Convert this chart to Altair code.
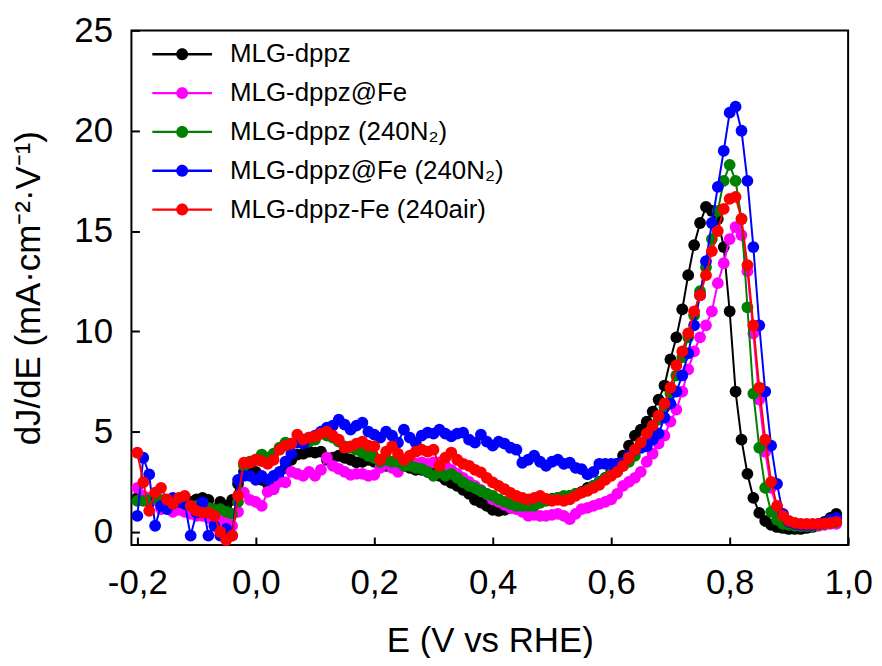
import altair as alt
import pandas as pd

# Potential grid (V vs RHE), sampled every 10 mV
E = [round(-0.20 + 0.01 * i, 2) for i in range(119)]

series_names = [
    "MLG-dppz",
    "MLG-dppz@Fe",
    "MLG-dppz (240N\u2082)",
    "MLG-dppz@Fe (240N\u2082)",
    "MLG-dppz-Fe (240air)",
]
series_colors = ["#000000", "#ff00ff", "#008000", "#0000ff", "#ff0000"]

mlg_dppz = (
    [1.7, 1.6, 1.5, 1.6, 1.4, 1.3, 1.5, 1.4, 1.3, 1.5, 1.63, 1.7, 1.6, 1.14, 1.5, 1.3, 1.6, 2.4, 3.0, 3.2]
    + [3.0, 2.6, 2.4, 2.2, 2.6, 3.2, 3.6, 3.86, 3.9, 4.0, 3.96, 4.0, 3.6, 3.7, 3.8, 3.7, 3.6, 3.47, 3.5, 3.6,
       3.5, 3.4, 3.3, 3.3, 3.4, 3.3, 3.2, 3.1, 3.1, 3.0]
    + [2.9, 2.8, 2.6, 2.45, 2.3, 2.1, 1.9, 1.6, 1.47, 1.3, 1.1, 1.05, 1.1, 1.2, 1.3, 1.4, 1.5, 1.5, 1.6, 1.6,
       1.65, 1.7, 1.7, 1.8, 1.9, 2.0, 2.2, 2.3, 2.5, 2.7]
    + [3.0, 3.4, 3.8, 4.3, 4.8, 5.1, 5.5, 6.0, 6.6, 7.3, 8.6, 9.7, 11.1, 12.8, 14.3, 15.4, 16.2, 16.0, 15.6, 14.2,
       11.0, 7.0, 4.6, 2.9, 1.7, 0.95, 0.55, 0.35, 0.25, 0.2, 0.15, 0.15, 0.15, 0.2, 0.25, 0.35, 0.5, 0.7, 0.9]
)

mlg_dppz_fe = (
    [2.2, 1.8, 1.7, 1.6, 1.14, 1.2, 1.0, 1.1, 1.0, 0.9, 0.8, 0.8, 0.7, 0.7, 0.6, 0.5, 0.3, 1.0, 1.96, 1.6]
    + [1.5, 1.3, 2.0, 2.13, 2.5, 2.47, 3.0, 2.9, 2.8, 3.0, 2.8, 3.1, 3.7, 3.3, 3.15, 3.0, 2.85, 2.9, 2.9, 2.8,
       2.85, 3.2, 3.53, 3.2, 3.0, 3.3, 3.47, 3.4, 3.47, 3.4]
    + [3.47, 3.47, 3.3, 3.1, 2.9, 2.7, 2.5, 2.3, 2.1, 1.9, 1.63, 1.5, 1.35, 1.2, 1.14, 1.0, 0.8, 0.85, 0.8, 0.8,
       0.85, 0.9, 0.8, 0.64, 0.9, 1.14, 1.2, 1.3, 1.4, 1.5]
    + [1.63, 1.9, 2.3, 2.5, 2.7, 3.0, 3.5, 3.9, 4.4, 4.8, 5.5, 6.1, 7.0, 8.1, 9.0, 9.7, 10.3, 11.0, 12.4, 13.4,
       14.6, 15.2, 14.8, 13.0, 9.9, 6.6, 4.0, 2.2, 1.1, 0.6, 0.4, 0.35, 0.3, 0.3, 0.3, 0.3, 0.35, 0.4, 0.4]
)

mlg_dppz_n2 = (
    [1.55, 1.55, 1.6, 1.7, 1.6, 1.5, 1.4, 1.5, 1.4, 1.3, 1.3, 1.2, 1.2, 1.1, 1.14, 1.0, 0.9, 1.5, 3.3, 3.5]
    + [3.6, 3.86, 3.7, 3.9, 4.2, 4.45, 4.4, 4.5, 4.6, 4.5, 4.6, 4.9, 4.8, 4.7, 4.5, 4.27, 4.2, 4.1, 3.96, 3.8,
       3.7, 3.5, 3.6, 3.5, 3.5, 3.3, 3.3, 3.2, 3.15, 3.0]
    + [2.8, 2.97, 2.8, 2.9, 2.7, 2.47, 2.3, 2.2, 2.05, 1.9, 1.8, 1.63, 1.5, 1.4, 1.3, 1.3, 1.3, 1.3, 1.45, 1.55,
       1.63, 1.7, 1.8, 1.8, 1.9, 1.96, 2.1, 2.3, 2.47, 2.7]
    + [2.9, 3.0, 3.3, 3.5, 3.8, 4.2, 4.6, 5.1, 5.6, 6.2, 6.9, 7.8, 8.7, 9.7, 10.8, 12.0, 13.2, 14.6, 16.0, 17.5,
       18.3, 17.5, 15.6, 11.2, 6.9, 4.2, 2.2, 1.0, 0.6, 0.4, 0.35, 0.3, 0.3, 0.3, 0.3, 0.35, 0.4, 0.45, 0.5]
)

mlg_dppz_fe_n2 = (
    [0.8, 3.7, 2.87, 0.31, 1.3, 1.14, 1.7, 1.5, 1.4, -0.18, 0.97, 1.47, -0.18, 0.31, -0.18, 0.15, -0.18, 2.6, 2.8, 2.8]
    + [2.6, 2.8, 2.6, 2.8, 3.0, 3.5, 3.9, 4.45, 4.4, 4.7, 4.8, 5.0, 5.2, 5.3, 5.6, 5.35, 5.1, 5.3, 5.45, 5.0,
       4.85, 4.7, 5.0, 4.8, 4.45, 5.1, 4.7, 4.45, 4.8, 4.95]
    + [4.9, 5.1, 4.9, 4.77, 4.9, 4.95, 4.6, 4.45, 4.85, 4.5, 4.3, 4.5, 4.4, 4.2, 4.1, 3.45, 3.6, 3.8, 3.5, 3.3,
       3.5, 3.6, 3.4, 3.45, 3.2, 3.13, 2.87, 3.0, 3.4, 3.4]
    + [3.4, 3.4, 3.45, 3.8, 4.1, 4.2, 4.27, 4.6, 4.9, 5.7, 6.4, 7.0, 7.8, 8.9, 10.3, 11.8, 13.5, 15.4, 17.2, 19.0,
       20.9, 21.2, 20.0, 17.5, 14.2, 10.3, 7.0, 4.3, 2.4, 0.9, 0.5, 0.4, 0.35, 0.35, 0.35, 0.4, 0.45, 0.6, 0.7]
)

mlg_dppz_fe_air = (
    [3.95, 2.47, 1.05, 1.96, 2.2, 1.63, 1.4, 1.7, 1.8, 1.3, 1.05, 0.97, 0.97, 0.8, 0.0, -0.4, -0.18, 1.8, 3.45, 3.45]
    + [3.6, 3.53, 3.4, 3.6, 4.1, 4.3, 4.4, 4.85, 4.6, 4.7, 4.77, 4.9, 5.0, 4.8, 4.6, 4.2, 4.27, 4.4, 4.5, 4.3,
       4.27, 3.6, 4.0, 4.27, 3.9, 3.6, 3.8, 4.0, 4.1, 4.0]
    + [4.1, 3.3, 3.7, 3.96, 3.6, 3.4, 3.3, 3.1, 2.97, 2.7, 2.47, 2.3, 2.13, 1.95, 1.8, 1.7, 1.63, 1.7, 1.8, 1.65,
       1.55, 1.6, 1.55, 1.63, 1.8, 1.96, 2.05, 2.2, 2.35, 2.6]
    + [2.8, 3.0, 3.3, 3.7, 4.1, 4.45, 4.9, 5.3, 5.8, 6.4, 7.2, 8.3, 9.0, 9.9, 11.0, 11.8, 12.8, 14.0, 15.0, 16.1,
       16.6, 16.7, 15.6, 13.3, 10.3, 7.2, 4.6, 2.5, 1.3, 0.8, 0.55, 0.45, 0.4, 0.4, 0.4, 0.4, 0.42, 0.45, 0.5]
)

all_series = [mlg_dppz, mlg_dppz_fe, mlg_dppz_n2, mlg_dppz_fe_n2, mlg_dppz_fe_air]
for s in all_series:
    assert len(s) == len(E), len(s)

x_ticks = [-0.2, 0.0, 0.2, 0.4, 0.6, 0.8, 1.0]
y_ticks = [0, 5, 10, 15, 20, 25]

rows = []
for name, vals in zip(series_names, all_series):
    for e, j in zip(E, vals):
        rows.append({"series": name, "E": e, "J": j})
df = pd.DataFrame(rows)

W, H = 720, 517
FONT = "Liberation Sans"
FS = 35

x_scale = alt.Scale(domain=[-0.21, 1.0], nice=False, zero=False)
y_scale = alt.Scale(domain=[-0.65, 25], nice=False, zero=False)

x_axis = alt.Axis(
    values=x_ticks,
    labelExpr="replace(replace(format(datum.value, '.1f'), '.', ','), '\u2212', '-')",
    ticks=False, tickSize=0, domain=False, grid=False,
    labelFontSize=FS, labelPadding=21, labelFlush=False, labelOverlap=False,
    labelColor="black", labelFont=FONT,
    title="E (V vs RHE)", titleFontSize=FS, titleFontWeight="normal",
    titleColor="black", titleFont=FONT, titlePadding=23,
)
y_axis = alt.Axis(
    values=y_ticks, format="d",
    ticks=False, tickSize=0, domain=False, grid=False,
    labelFontSize=FS, labelPadding=19, labelFlush=False, labelOverlap=False,
    labelColor="black", labelFont=FONT,
    title="dJ/dE (mA\u00b7cm\u207b\u00b2\u00b7V\u207b\u00b9)", titleFontSize=FS,
    titleFontWeight="normal", titleColor="black", titleFont=FONT, titlePadding=27,
)

LEGEND_PATH = "M-5,-0.2L5,-0.2L5,0.2L-5,0.2Z M-1,0A1,1,0,1,1,1,0A1,1,0,1,1,-1,0Z"
legend_def = alt.Legend(
    title=None, orient="none", legendX=8, legendY=11,
    symbolType=LEGEND_PATH, symbolSize=144, symbolStrokeWidth=0,
    symbolOffset=30, labelOffset=35, labelFontSize=26, labelFont=FONT,
    labelColor="black", labelLimit=600, rowPadding=13, padding=0,
    symbolOpacity=1,
)
color_scale = alt.Scale(domain=series_names, range=series_colors)

layers = []
for name, col in zip(series_names, series_colors):
    base = alt.Chart(df).transform_filter(alt.datum.series == name)
    line = base.mark_line(strokeWidth=2).encode(
        x=alt.X("E:Q", scale=x_scale, axis=x_axis),
        y=alt.Y("J:Q", scale=y_scale, axis=y_axis),
        color=alt.value(col),
    )
    pts = base.mark_point(filled=True, size=140, opacity=1).encode(
        x=alt.X("E:Q", scale=x_scale, axis=x_axis),
        y=alt.Y("J:Q", scale=y_scale, axis=y_axis),
        color=alt.Color("series:N", scale=color_scale, legend=legend_def),
    )
    layers += [line, pts]

main = alt.layer(*layers)

# invisible layer that only carries inward-pointing tick marks
tick_layer = alt.Chart(df).mark_point(opacity=0).encode(
    x=alt.X("E:Q", scale=x_scale, axis=alt.Axis(
        orient="top", offset=-H, values=x_ticks, labels=False, domain=False,
        grid=False, ticks=True, tickSize=8, tickWidth=2, tickColor="black", title=None)),
    y=alt.Y("J:Q", scale=y_scale, axis=alt.Axis(
        orient="right", offset=-W, values=y_ticks, labels=False, domain=False,
        grid=False, ticks=True, tickSize=8, tickWidth=2, tickColor="black", title=None)),
)

chart = (
    alt.layer(main, tick_layer)
    .resolve_axis(x="independent", y="independent")
    .properties(
        width=W, height=H,
        autosize=alt.AutoSizeParams(type="none"),
        padding={"left": 124, "top": 21, "right": 26, "bottom": 112},
    )
    .configure(font=FONT)
    .configure_view(stroke="black", strokeWidth=2)
)

chart.save("out.html", embed_options={"renderer": "svg", "actions": False})
